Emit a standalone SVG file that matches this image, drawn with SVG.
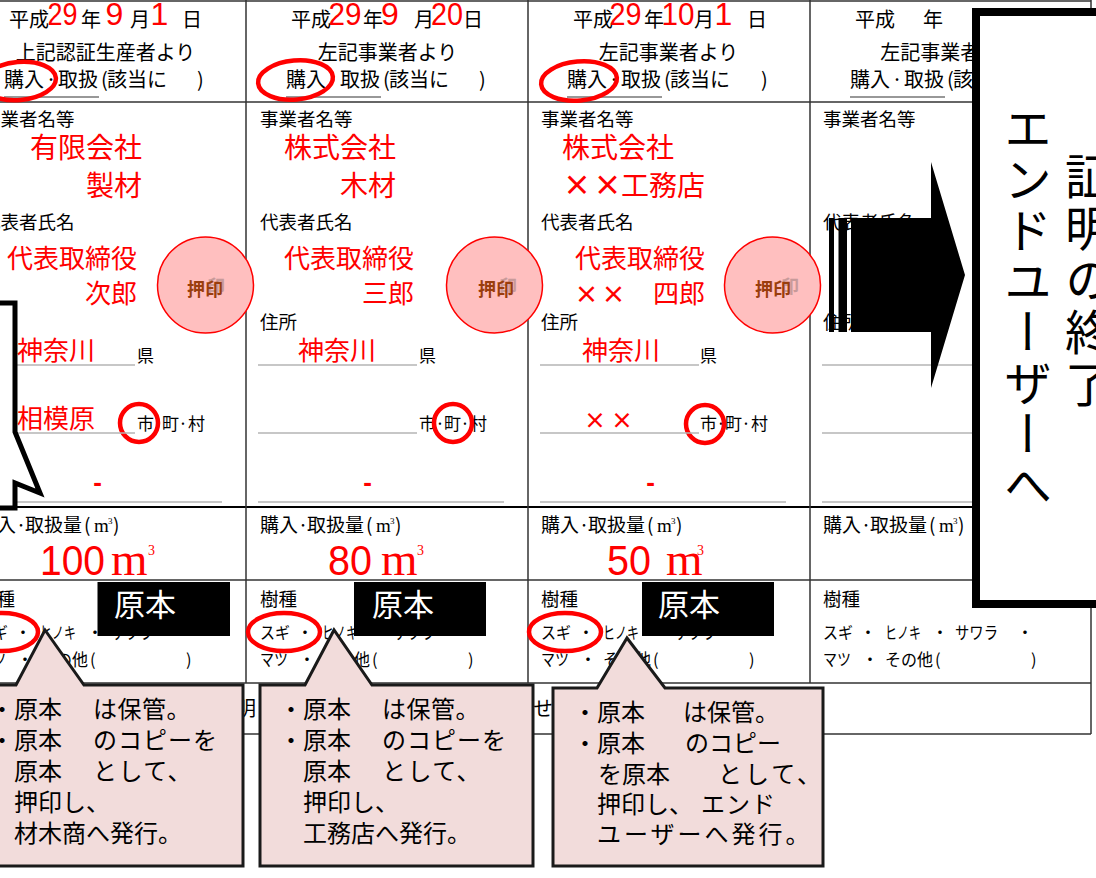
<svg xmlns="http://www.w3.org/2000/svg" width="1096" height="878" viewBox="0 0 1096 878">
<defs>
<style>
text{font-family:"Noto Sans CJK JP","Noto Sans CJK SC",sans-serif;fill:#000}
.hd{font-size:20px}
.lb{font-size:18.5px}
.lq{font-size:19px}
.sm{font-size:17px}
.ks{font-size:16.5px}
.r{fill:#f00}
.r28{font-size:28px;fill:#f00}
.r26{font-size:26px;fill:#f00}
.dg{font-family:"Liberation Sans",Arial,sans-serif;font-size:32px;fill:#f00}
.big{font-family:"Liberation Sans",Arial,sans-serif;font-size:42px;fill:#f00}
.ser{font-family:"Liberation Serif","Times New Roman",serif}
.mm{font-family:"Liberation Serif","Times New Roman",serif;font-size:47px;fill:#f00}
.m3{font-family:"Liberation Serif","Times New Roman",serif;font-size:14px;fill:#f00}
.xx{font-weight:bold;fill:#f00}
.dash{font-family:"Liberation Sans",Arial,sans-serif;font-size:26px;font-weight:bold;fill:#f00}
.st{font-size:18px;font-weight:bold;fill:#9a3d0d}
.stg{font-size:18px;font-weight:bold;fill:#c89a9a}
.gen{font-size:31px;fill:#fff}
.co{font-size:24px}
.grid{stroke:#333;stroke-width:1.5;fill:none}
.gl{stroke:#b4b4b4;stroke-width:1.5}
.ul{stroke:#333;stroke-width:1.2}
.ring{fill:none;stroke:#f00;stroke-width:4.5}
.stamp{fill:#ffbfbf;stroke:#f00;stroke-width:1.5}
.callout{fill:#f2dcdb;stroke:#1a1a1a;stroke-width:3}
.vt{font-size:48px;writing-mode:vertical-rl}
</style>
</defs>
<rect x="0" y="0" width="1096" height="878" fill="#fff"/>

<g id="table">
<line class="grid" x1="-10" y1="1" x2="1091" y2="1"/>
<line class="grid" x1="-10" y1="102" x2="1091" y2="102"/>
<line class="grid" x1="-10" y1="507" x2="1091" y2="507" style="stroke:#000;stroke-width:2"/>
<line class="grid" x1="-10" y1="580" x2="1091" y2="580"/>
<line class="grid" x1="-10" y1="683" x2="1091" y2="683"/>
<line class="grid" x1="-10" y1="734" x2="1091" y2="734"/>
<line class="grid" x1="246" y1="0" x2="246" y2="683"/>
<line class="grid" x1="528" y1="0" x2="528" y2="683"/>
<line class="grid" x1="810" y1="0" x2="810" y2="683"/>
<line class="grid" x1="1091" y1="0" x2="1091" y2="734"/>
<text class="hd" x="236" y="716">明</text>
<text class="hd" x="533" y="716">せ</text>
</g>

<g id="col1">
<text class="hd" x="9" y="27">平成</text>
<text class="dg" x="47.5" y="25" textLength="30" lengthAdjust="spacingAndGlyphs">29</text>
<text class="hd" x="81" y="27">年</text>
<text class="dg" x="105.5" y="25">9</text>
<text class="hd" x="130" y="27">月</text>
<text class="dg" x="150.5" y="25">1</text>
<text class="hd" x="182" y="27">日</text>
<text class="hd" x="105.5" y="60" text-anchor="middle">上記認証生産者より</text>
<text class="hd" x="4" y="87">購入</text><text class="hd" x="51" y="87" text-anchor="middle">·</text><text class="hd" x="58" y="87">取扱</text><text class="hd" x="101" y="87">(</text><text class="hd" x="107" y="87">該当に</text><text class="hd" x="197" y="87">)</text>
<line class="ul" x1="4" y1="97" x2="99" y2="97"/>
<ellipse class="ring" cx="19" cy="81" rx="37" ry="19" transform="rotate(-5 19 81)"/>
<text class="lb" x="-18" y="126">事業者名等</text>
<text class="r28" x="30" y="158">有限会社</text>
<text class="r28" x="86" y="196">製材</text>
<text class="lb" x="-18" y="229">代表者氏名</text>
<text class="r26" x="7" y="268">代表取締役</text>
<text class="r26" x="85" y="303">次郎</text>
<circle class="stamp" cx="205.5" cy="285" r="48"/>
<text class="stg" x="207" y="293">印</text>
<text class="st" x="187" y="296">押印</text>
<text class="r26" x="17" y="360">神奈川</text>
<text class="sm" x="137" y="362">県</text>
<line class="gl" x1="-24" y1="365" x2="135" y2="365"/>
<text class="r26" x="17" y="428">相模原</text>
<text class="sm" x="137" y="430">市</text><text class="sm" x="158" y="430" text-anchor="middle">·</text><text class="sm" x="162" y="430">町</text><text class="sm" x="183" y="430" text-anchor="middle">·</text><text class="sm" x="188" y="430">村</text>
<circle class="ring" cx="139" cy="423" r="19"/>
<line class="gl" x1="-24" y1="433" x2="135" y2="433"/>
<text class="dash" x="97.5" y="491" text-anchor="middle">-</text>
<line class="gl" x1="-24" y1="502" x2="222" y2="502"/>
<text class="lq" x="-22" y="532">購入</text><text class="lq" x="21" y="532" text-anchor="middle">·</text><text class="lq" x="25" y="532">取扱量</text><text class="lq" x="84" y="532">(</text><text class="lq ser" x="94" y="532">m</text><text class="ser" x="108" y="524" style="font-size:9px">3</text><text class="lq" x="113" y="532">)</text>
<text class="big" x="40" y="575" textLength="65" lengthAdjust="spacingAndGlyphs">100</text>
<text class="mm" x="111" y="575">m</text>
<text class="m3" x="148" y="555">3</text>
<text class="lb" x="-22" y="606">樹種</text>
<text class="ks" x="-22" y="639" textLength="30" lengthAdjust="spacingAndGlyphs">スギ</text><text class="ks" x="23" y="639" text-anchor="middle">・</text><text class="ks" x="40" y="639" textLength="36" lengthAdjust="spacingAndGlyphs">ヒノキ</text><text class="ks" x="95" y="639" text-anchor="middle">・</text><text class="ks" x="110" y="639" textLength="43" lengthAdjust="spacingAndGlyphs">サワラ</text>
<text class="ks" x="-22" y="666" textLength="28" lengthAdjust="spacingAndGlyphs">マツ</text><text class="ks" x="25" y="666" text-anchor="middle">・</text><text class="ks" x="40" y="666" textLength="48" lengthAdjust="spacingAndGlyphs">その他</text><text class="ks" x="90" y="666">(</text><text class="ks" x="186" y="666">)</text>
<ellipse class="ring" cx="2" cy="632" rx="36" ry="19"/>
<rect x="97.5" y="582" width="132.5" height="54" fill="#000"/>
<text class="gen" x="114" y="616">原本</text>
</g>

<g id="col2">
<text class="hd" x="291" y="27">平成</text>
<text class="dg" x="328.5" y="25" textLength="33" lengthAdjust="spacingAndGlyphs">29</text>
<text class="hd" x="363" y="27">年</text>
<text class="dg" x="381" y="25">9</text>
<text class="hd" x="414" y="27">月</text>
<text class="dg" x="431" y="25" textLength="32" lengthAdjust="spacingAndGlyphs">20</text>
<text class="hd" x="463" y="27">日</text>
<text class="hd" x="387.5" y="60" text-anchor="middle">左記事業者より</text>
<text class="hd" x="286" y="87">購入</text><text class="hd" x="333" y="87" text-anchor="middle">·</text><text class="hd" x="340" y="87">取扱</text><text class="hd" x="383" y="87">(</text><text class="hd" x="389" y="87">該当に</text><text class="hd" x="479" y="87">)</text>
<line class="ul" x1="286" y1="97" x2="381" y2="97"/>
<ellipse class="ring" cx="295.5" cy="80" rx="37.5" ry="19.5" transform="rotate(-5 295.5 80)"/>
<text class="lb" x="260" y="126">事業者名等</text>
<text class="r28" x="284" y="158">株式会社</text>
<text class="r28" x="340" y="196">木材</text>
<text class="lb" x="260" y="229">代表者氏名</text>
<text class="r26" x="284" y="268">代表取締役</text>
<text class="r26" x="362" y="303">三郎</text>
<circle class="stamp" cx="494.5" cy="285" r="48"/>
<text class="stg" x="499" y="293">印</text>
<text class="st" x="478" y="296">押印</text>
<text class="lb" x="260" y="329">住所</text>
<text class="r26" x="298" y="360">神奈川</text>
<text class="sm" x="419" y="362">県</text>
<line class="gl" x1="258" y1="365" x2="417" y2="365"/>
<text class="sm" x="419" y="430">市</text><text class="sm" x="440" y="430" text-anchor="middle">·</text><text class="sm" x="444" y="430">町</text><text class="sm" x="465" y="430" text-anchor="middle">·</text><text class="sm" x="470" y="430">村</text>
<circle class="ring" cx="453" cy="423" r="19"/>
<line class="gl" x1="258" y1="433" x2="417" y2="433"/>
<text class="dash" x="367.5" y="491" text-anchor="middle">-</text>
<line class="gl" x1="258" y1="502" x2="504" y2="502"/>
<text class="lq" x="260" y="532">購入</text><text class="lq" x="303" y="532" text-anchor="middle">·</text><text class="lq" x="307" y="532">取扱量</text><text class="lq" x="366" y="532">(</text><text class="lq ser" x="376" y="532">m</text><text class="ser" x="390" y="524" style="font-size:9px">3</text><text class="lq" x="395" y="532">)</text>
<text class="big" x="328" y="575" textLength="44" lengthAdjust="spacingAndGlyphs">80</text>
<text class="mm" x="381" y="575">m</text>
<text class="m3" x="417" y="555">3</text>
<text class="lb" x="260" y="606">樹種</text>
<text class="ks" x="260" y="639" textLength="30" lengthAdjust="spacingAndGlyphs">スギ</text><text class="ks" x="305" y="639" text-anchor="middle">・</text><text class="ks" x="322" y="639" textLength="36" lengthAdjust="spacingAndGlyphs">ヒノキ</text><text class="ks" x="377" y="639" text-anchor="middle">・</text><text class="ks" x="392" y="639" textLength="43" lengthAdjust="spacingAndGlyphs">サワラ</text>
<text class="ks" x="260" y="666" textLength="28" lengthAdjust="spacingAndGlyphs">マツ</text><text class="ks" x="307" y="666" text-anchor="middle">・</text><text class="ks" x="322" y="666" textLength="48" lengthAdjust="spacingAndGlyphs">その他</text><text class="ks" x="372" y="666">(</text><text class="ks" x="468" y="666">)</text>
<ellipse class="ring" cx="284" cy="632" rx="36" ry="19"/>
<rect x="354" y="582" width="132" height="54" fill="#000"/>
<text class="gen" x="372" y="616">原本</text>
</g>

<g id="col3">
<text class="hd" x="573" y="27">平成</text>
<text class="dg" x="609.5" y="25" textLength="32" lengthAdjust="spacingAndGlyphs">29</text>
<text class="hd" x="644" y="27">年</text>
<text class="dg" x="661.5" y="25" textLength="33" lengthAdjust="spacingAndGlyphs">10</text>
<text class="hd" x="694" y="27">月</text>
<text class="dg" x="714.5" y="25">1</text>
<text class="hd" x="747" y="27">日</text>
<text class="hd" x="668.5" y="60" text-anchor="middle">左記事業者より</text>
<text class="hd" x="567" y="87">購入</text><text class="hd" x="614" y="87" text-anchor="middle">·</text><text class="hd" x="621" y="87">取扱</text><text class="hd" x="664" y="87">(</text><text class="hd" x="670" y="87">該当に</text><text class="hd" x="761" y="87">)</text>
<line class="ul" x1="567" y1="97" x2="662" y2="97"/>
<ellipse class="ring" cx="579" cy="81" rx="38" ry="19.5" transform="rotate(-5 579 81)"/>
<text class="lb" x="541" y="126">事業者名等</text>
<text class="r28" x="562" y="158">株式会社</text>
<text class="r28 xx" x="577" y="196" text-anchor="middle">×</text>
<text class="r28 xx" x="607.5" y="196" text-anchor="middle">×</text>
<text class="r28" x="621" y="196">工務店</text>
<text class="lb" x="541" y="229">代表者氏名</text>
<text class="r26" x="575" y="268">代表取締役</text>
<text class="r26 xx" x="586.5" y="303" text-anchor="middle" style="font-size:24px">×</text>
<text class="r26 xx" x="613.5" y="303" text-anchor="middle" style="font-size:24px">×</text>
<text class="r26" x="653" y="303">四郎</text>
<circle class="stamp" cx="772.5" cy="285" r="48"/>
<text class="stg" x="781" y="293">印</text>
<text class="st" x="755" y="296">押印</text>
<text class="lb" x="541" y="329">住所</text>
<text class="r26" x="582" y="360">神奈川</text>
<text class="sm" x="700" y="362">県</text>
<line class="gl" x1="540" y1="365" x2="699" y2="365"/>
<text class="r26 xx" x="595" y="428" text-anchor="middle" style="font-size:22px">×</text>
<text class="r26 xx" x="622" y="428" text-anchor="middle" style="font-size:22px">×</text>
<text class="sm" x="700" y="430">市</text><text class="sm" x="721" y="430" text-anchor="middle">·</text><text class="sm" x="725" y="430">町</text><text class="sm" x="746" y="430" text-anchor="middle">·</text><text class="sm" x="751" y="430">村</text>
<circle class="ring" cx="705" cy="424" r="19"/>
<line class="gl" x1="540" y1="433" x2="699" y2="433"/>
<text class="dash" x="650.5" y="491" text-anchor="middle">-</text>
<line class="gl" x1="540" y1="502" x2="786" y2="502"/>
<text class="lq" x="541" y="532">購入</text><text class="lq" x="584" y="532" text-anchor="middle">·</text><text class="lq" x="588" y="532">取扱量</text><text class="lq" x="647" y="532">(</text><text class="lq ser" x="657" y="532">m</text><text class="ser" x="671" y="524" style="font-size:9px">3</text><text class="lq" x="676" y="532">)</text>
<text class="big" x="607" y="575" textLength="44" lengthAdjust="spacingAndGlyphs">50</text>
<text class="mm" x="666" y="575">m</text>
<text class="m3" x="697" y="555">3</text>
<text class="lb" x="541" y="606">樹種</text>
<text class="ks" x="541" y="639" textLength="30" lengthAdjust="spacingAndGlyphs">スギ</text><text class="ks" x="586" y="639" text-anchor="middle">・</text><text class="ks" x="603" y="639" textLength="36" lengthAdjust="spacingAndGlyphs">ヒノキ</text><text class="ks" x="658" y="639" text-anchor="middle">・</text><text class="ks" x="673" y="639" textLength="43" lengthAdjust="spacingAndGlyphs">サワラ</text>
<text class="ks" x="541" y="666" textLength="28" lengthAdjust="spacingAndGlyphs">マツ</text><text class="ks" x="588" y="666" text-anchor="middle">・</text><text class="ks" x="603" y="666" textLength="48" lengthAdjust="spacingAndGlyphs">その他</text><text class="ks" x="653" y="666">(</text><text class="ks" x="749" y="666">)</text>
<ellipse class="ring" cx="565" cy="632" rx="36" ry="19"/>
<rect x="642" y="582" width="132" height="54" fill="#000"/>
<text class="gen" x="658" y="616">原本</text>
</g>

<g id="col4">
<text class="hd" x="855" y="27">平成</text>
<text class="hd" x="923" y="27">年</text>
<text class="hd" x="950" y="60" text-anchor="middle">左記事業者より</text>
<text class="hd" x="850" y="87">購入</text><text class="hd" x="897" y="87" text-anchor="middle">·</text><text class="hd" x="904" y="87">取扱</text><text class="hd" x="947" y="87">(</text><text class="hd" x="953" y="87">該当に</text>
<line class="ul" x1="850" y1="97" x2="945" y2="97"/>
<text class="lb" x="823" y="126">事業者名等</text>
<text class="lb" x="823" y="229">代表者氏名</text>
<text class="lb" x="823" y="329">住所</text>
<line class="gl" x1="822" y1="365" x2="981" y2="365"/>
<line class="gl" x1="822" y1="433" x2="981" y2="433"/>
<line class="gl" x1="822" y1="502" x2="1068" y2="502"/>
<text class="lq" x="823" y="532">購入</text><text class="lq" x="866" y="532" text-anchor="middle">·</text><text class="lq" x="870" y="532">取扱量</text><text class="lq" x="929" y="532">(</text><text class="lq ser" x="939" y="532">m</text><text class="ser" x="953" y="524" style="font-size:9px">3</text><text class="lq" x="958" y="532">)</text>
<text class="lb" x="823" y="606">樹種</text>
<text class="ks" x="823" y="639" textLength="30" lengthAdjust="spacingAndGlyphs">スギ</text><text class="ks" x="868" y="639" text-anchor="middle">・</text><text class="ks" x="885" y="639" textLength="36" lengthAdjust="spacingAndGlyphs">ヒノキ</text><text class="ks" x="940" y="639" text-anchor="middle">・</text><text class="ks" x="955" y="639" textLength="43" lengthAdjust="spacingAndGlyphs">サワラ</text><text class="ks" x="1025" y="639" text-anchor="middle">・</text>
<text class="ks" x="823" y="666" textLength="28" lengthAdjust="spacingAndGlyphs">マツ</text><text class="ks" x="870" y="666" text-anchor="middle">・</text><text class="ks" x="885" y="666" textLength="48" lengthAdjust="spacingAndGlyphs">その他</text><text class="ks" x="935" y="666">(</text><text class="ks" x="1031" y="666">)</text>
</g>

<g id="callout1">
<path class="callout" d="M -10 685 H 16 L 45 630 L 84 685 H 243 V 866 H -10 Z"/>
<text class="co" x="-10" y="718">・原本</text><text class="co" x="93" y="718" letter-spacing="0.5">は保管。</text>
<text class="co" x="-10" y="749">・原本</text><text class="co" x="93" y="749" letter-spacing="1">のコピーを</text>
<text class="co" x="14" y="780">原本</text><text class="co" x="93" y="780" letter-spacing="1.5">として、</text>
<text class="co" x="14" y="811">押印し、</text>
<text class="co" x="14" y="842">材木商へ発行。</text>
</g>

<g id="callout2">
<path class="callout" d="M 260 685 H 305 L 334 630 L 372 685 H 533 V 866 H 260 Z"/>
<text class="co" x="279" y="718">・原本</text><text class="co" x="382" y="718" letter-spacing="0.5">は保管。</text>
<text class="co" x="279" y="749">・原本</text><text class="co" x="382" y="749" letter-spacing="1">のコピーを</text>
<text class="co" x="303" y="780">原本</text><text class="co" x="382" y="780" letter-spacing="1.5">として、</text>
<text class="co" x="303" y="811">押印し、</text>
<text class="co" x="303" y="842">工務店へ発行。</text>
</g>

<g id="callout3">
<path class="callout" d="M 553 688 H 597 L 627 638 L 665 688 H 823 V 866 H 553 Z"/>
<text class="co" x="573" y="721">・原本</text><text class="co" x="683" y="721">は保管。</text>
<text class="co" x="573" y="752">・原本</text><text class="co" x="685" y="752">のコピー</text>
<text class="co" x="598" y="783">を原本</text><text class="co" x="718" y="783" letter-spacing="3">として、</text>
<text class="co" x="597" y="813">押印し、</text><text class="co" x="701" y="813" letter-spacing="1">エンド</text>
<text class="co" x="597" y="843" letter-spacing="3">ユーザーへ発行。</text>
</g>

<g id="left-box">
<path d="M -10 303 H 15 V 432 L 40 493 L 15 483 V 508 H -10 Z" fill="#fff" stroke="#000" stroke-width="5" stroke-linejoin="miter"/>
</g>

<g id="connectors">
<rect x="829" y="218" width="5" height="114" fill="#000"/>
<rect x="838.5" y="218" width="8.5" height="114" fill="#000"/>
<path d="M 851 218 H 931 V 162 L 965 275 L 931 388 V 332 H 851 Z" fill="#000"/>
</g>

<g id="end-box">
<rect x="976" y="12" width="200" height="592" fill="#fff" stroke="#000" stroke-width="8"/>
<text class="vt" x="1028" y="104" letter-spacing="3">エンドユーザーへ</text>
<text class="vt" x="1089" y="152" letter-spacing="4">証明の終了</text>
</g>
</svg>
